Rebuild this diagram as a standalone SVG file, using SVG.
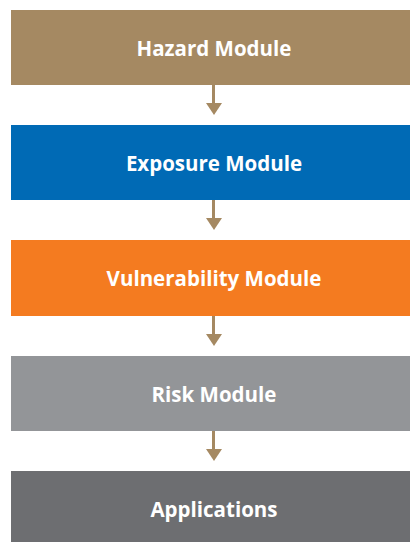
<svg xmlns="http://www.w3.org/2000/svg" width="410" height="542" viewBox="0 0 410 542">
<style>
.box text{font-family:"Open Sans","Liberation Sans",sans-serif;font-weight:bold;font-size:20.5px;fill:#fff;text-anchor:middle}
.conn line{stroke:#A58962;stroke-width:3}
.conn polygon{fill:#A58962}
</style>
<rect width="410" height="542" fill="#fff"/>
<g id="hazard" class="box"><rect x="11" y="10" width="406" height="75" fill="#A58962"/><text x="214" y="56">Hazard Module</text></g>
<g id="exposure" class="box"><rect x="11" y="125" width="406" height="75" fill="#006AB5"/><text x="214" y="171">Exposure Module</text></g>
<g id="vulnerability" class="box"><rect x="11" y="240" width="406" height="76" fill="#F47B20"/><text x="214" y="286">Vulnerability Module</text></g>
<g id="risk" class="box"><rect x="11" y="356" width="406" height="75" fill="#939598"/><text x="214" y="402">Risk Module</text></g>
<g id="applications" class="box"><rect x="11" y="471" width="406" height="71" fill="#6D6E71"/><text x="214" y="517">Applications</text></g>
<g id="connectors" class="conn">
<line x1="213.5" y1="85" x2="213.5" y2="104"/><polygon points="206,103 222,103 214,115"/>
<line x1="213.5" y1="200" x2="213.5" y2="219"/><polygon points="206,218 222,218 214,230"/>
<line x1="213.5" y1="316" x2="213.5" y2="335"/><polygon points="206,334 222,334 214,346"/>
<line x1="213.5" y1="431" x2="213.5" y2="450"/><polygon points="206,449 222,449 214,461"/>
</g>
</svg>
